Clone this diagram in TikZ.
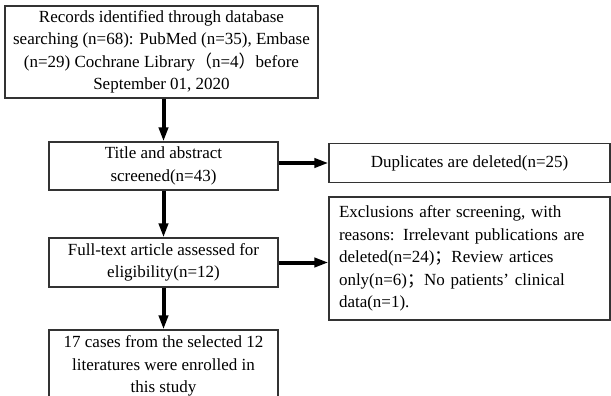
\documentclass[tikz,border=0pt]{standalone}
\usepackage{fontspec}
\setmainfont{Liberation Serif}
\newfontfamily\cjk{Noto Sans CJK SC}
\usetikzlibrary{arrows.meta}
\tikzset{
  boxst/.style={draw=black!80, line width=1.1pt, fill=white, inner sep=0pt, align=center,
    font=\fontsize{17}{22.5}\selectfont},
  arr/.style={line width=4pt, -{Triangle[width=9pt,length=14pt]}}
}
\begin{document}
\begin{tikzpicture}[x=1pt,y=-1pt]
\useasboundingbox (0,0) rectangle (611,396);
\clip (0,0) rectangle (611,396);
\node[boxst, minimum width=313pt, minimum height=92pt] (top) at (161.5,52)
  {Records identified through database\\searching (n=68): PubMed (n=35), Embase\\(n=29) Cochrane Library{\cjk （}n=4{\cjk ）}before\\September 01, 2020};
\node[boxst, minimum width=229pt, minimum height=48pt] (title) at (163.5,166)
  {Title and abstract\\screened(n=43)};
\node[boxst, minimum width=281pt, minimum height=39pt] (dup) at (469.5,163)
  {Duplicates are deleted(n=25)};
\node[boxst, minimum width=229pt, minimum height=49pt] (full) at (163.5,262.5)
  {Full-text article assessed for\\eligibility(n=12)};
\node[boxst, minimum width=281pt, minimum height=123pt, align=left, text width=261pt, inner xsep=10pt] (excl) at (469.5,258.5)
  {Exclusions after screening, with\\reasons: Irrelevant publications are\\deleted(n=24){\cjk ；}Review artices\\only(n=6){\cjk ；}No patients' clinical\\data(n=1).};
\node[boxst, minimum width=229pt, minimum height=72pt] (final) at (163.5,366)
  {17 cases from the selected 12\\literatures were enrolled in\\this study};
\draw[arr] (title.north |- top.south) -- (title.north);
\draw[arr] (title.south) -- (full.north);
\draw[arr] (full.south) -- (final.north);
\draw[arr] (title.east |- dup.west) -- (dup.west);
\draw[arr] (full.east) -- (full.east -| excl.west);
\end{tikzpicture}
\end{document}
